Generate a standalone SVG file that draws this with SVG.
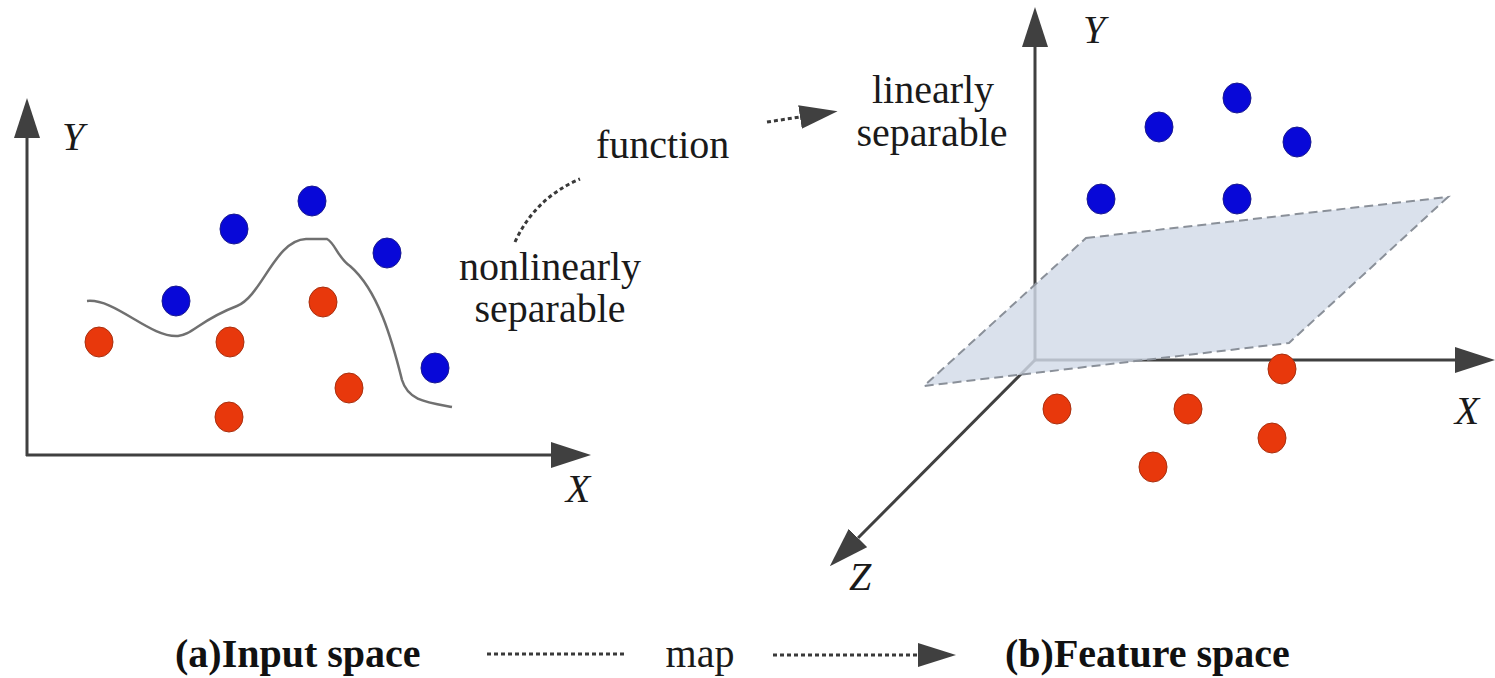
<svg xmlns="http://www.w3.org/2000/svg" width="1495" height="678" viewBox="0 0 1495 678">
<style>
.axis{stroke:#404040;stroke-width:3;fill:none}
.lbl{font-family:"Liberation Serif","Times New Roman",serif;font-size:40px;fill:#1a1a1a}
.ax{font-family:"Liberation Serif","Times New Roman",serif;font-size:40px;font-style:italic;fill:#1a1a1a}
.cap{font-family:"Liberation Serif","Times New Roman",serif;font-size:40px;font-weight:bold;fill:#111}
.blue{fill:#0808d8;stroke:#1a1a90;stroke-width:1}
.red{fill:#e8380c;stroke:#a83010;stroke-width:1}
.dot{stroke:#3a3a3a;stroke-width:3;stroke-dasharray:4,3;fill:none}
</style>
<defs>
<marker id="ah" markerUnits="userSpaceOnUse" markerWidth="42" markerHeight="28" refX="0" refY="13" orient="auto">
<path d="M0,0 L40,13 L0,26 z" fill="#404040"/>
</marker>
<marker id="ahs" markerUnits="userSpaceOnUse" markerWidth="40" markerHeight="26" refX="0" refY="12" orient="auto">
<path d="M0,0 L38,12 L0,24 z" fill="#404040"/>
</marker>
</defs>
<rect width="1495" height="678" fill="#fff"/>

<g id="input-space">
<line class="axis" x1="27" y1="456" x2="27" y2="138" marker-end="url(#ah)"/>
<line class="axis" x1="26" y1="455" x2="551" y2="455" marker-end="url(#ah)"/>
<text class="ax" x="73" y="150" text-anchor="middle">Y</text>
<text class="ax" x="578" y="502" text-anchor="middle">X</text>
<path id="boundary" d="M87,301 C115,298 150,338 178,336 C192,335 200,320 237,306 C262,296 275,240 306,239 L327,239 C335,243 338,258 350,266 C378,290 392,340 402,380 C408,400 425,402 452,407" fill="none" stroke="#707070" stroke-width="2.5"/>
<g id="left-blue">
<ellipse class="blue" cx="234" cy="229" rx="14" ry="15"/>
<ellipse class="blue" cx="312" cy="201" rx="14" ry="15"/>
<ellipse class="blue" cx="387" cy="253" rx="14" ry="15"/>
<ellipse class="blue" cx="176" cy="301" rx="14" ry="15"/>
<ellipse class="blue" cx="435" cy="368" rx="14" ry="15"/>
</g>
<g id="left-red">
<ellipse class="red" cx="99" cy="342" rx="14" ry="15"/>
<ellipse class="red" cx="230" cy="342" rx="14" ry="15"/>
<ellipse class="red" cx="323" cy="302" rx="14" ry="15"/>
<ellipse class="red" cx="349" cy="388" rx="14" ry="15"/>
<ellipse class="red" cx="229" cy="417" rx="14" ry="15"/>
</g>
</g>

<g id="feature-space">
<line class="axis" x1="1035" y1="361" x2="1035" y2="47" marker-end="url(#ah)"/>
<line class="axis" x1="1034" y1="360" x2="1455" y2="360" marker-end="url(#ah)"/>
<line class="axis" x1="1035" y1="360" x2="858" y2="538" marker-end="url(#ah)"/>
<polygon id="plane" points="1086,238 1448,197 1289,343 924,386" fill="#d2dbe8" fill-opacity="0.82" stroke="#8a9099" stroke-width="2" stroke-dasharray="9,5"/>
<text class="ax" x="1094" y="43" text-anchor="middle">Y</text>
<text class="ax" x="1467" y="424" text-anchor="middle">X</text>
<text class="ax" x="860" y="590" text-anchor="middle">Z</text>
<g id="right-blue">
<ellipse class="blue" cx="1237" cy="98" rx="14" ry="15"/>
<ellipse class="blue" cx="1159" cy="127" rx="14" ry="15"/>
<ellipse class="blue" cx="1297" cy="142" rx="14" ry="15"/>
<ellipse class="blue" cx="1101" cy="199" rx="14" ry="15"/>
<ellipse class="blue" cx="1237" cy="199" rx="14" ry="15"/>
</g>
<g id="right-red">
<ellipse class="red" cx="1282" cy="369" rx="14" ry="15"/>
<ellipse class="red" cx="1057" cy="409" rx="14" ry="15"/>
<ellipse class="red" cx="1188" cy="409" rx="14" ry="15"/>
<ellipse class="red" cx="1272" cy="438" rx="14" ry="15"/>
<ellipse class="red" cx="1153" cy="467" rx="14" ry="15"/>
</g>
</g>

<g id="label-nonlinear">
<text class="lbl" x="550" y="280" text-anchor="middle">nonlinearly</text>
<text class="lbl" x="550" y="322" text-anchor="middle">separable</text>
</g>
<g id="label-function">
<text class="lbl" x="596" y="158">function</text>
</g>
<g id="label-linear">
<text class="lbl" x="933" y="103" text-anchor="middle">linearly</text>
<text class="lbl" x="932" y="146" text-anchor="middle">separable</text>
</g>

<g id="connectors">
<path class="dot" d="M515,242 Q535,198 580,179"/>
<line class="dot" x1="767" y1="122" x2="800" y2="117" marker-end="url(#ahs)"/>
<line class="dot" x1="487" y1="654" x2="627" y2="654"/>
<line class="dot" x1="773" y1="655" x2="918" y2="655" marker-end="url(#ahs)"/>
</g>

<g id="captions">
<text class="cap" x="175" y="667">(a)Input space</text>
<text class="lbl" x="700" y="667" text-anchor="middle">map</text>
<text class="cap" x="1005" y="667">(b)Feature space</text>
</g>
</svg>
